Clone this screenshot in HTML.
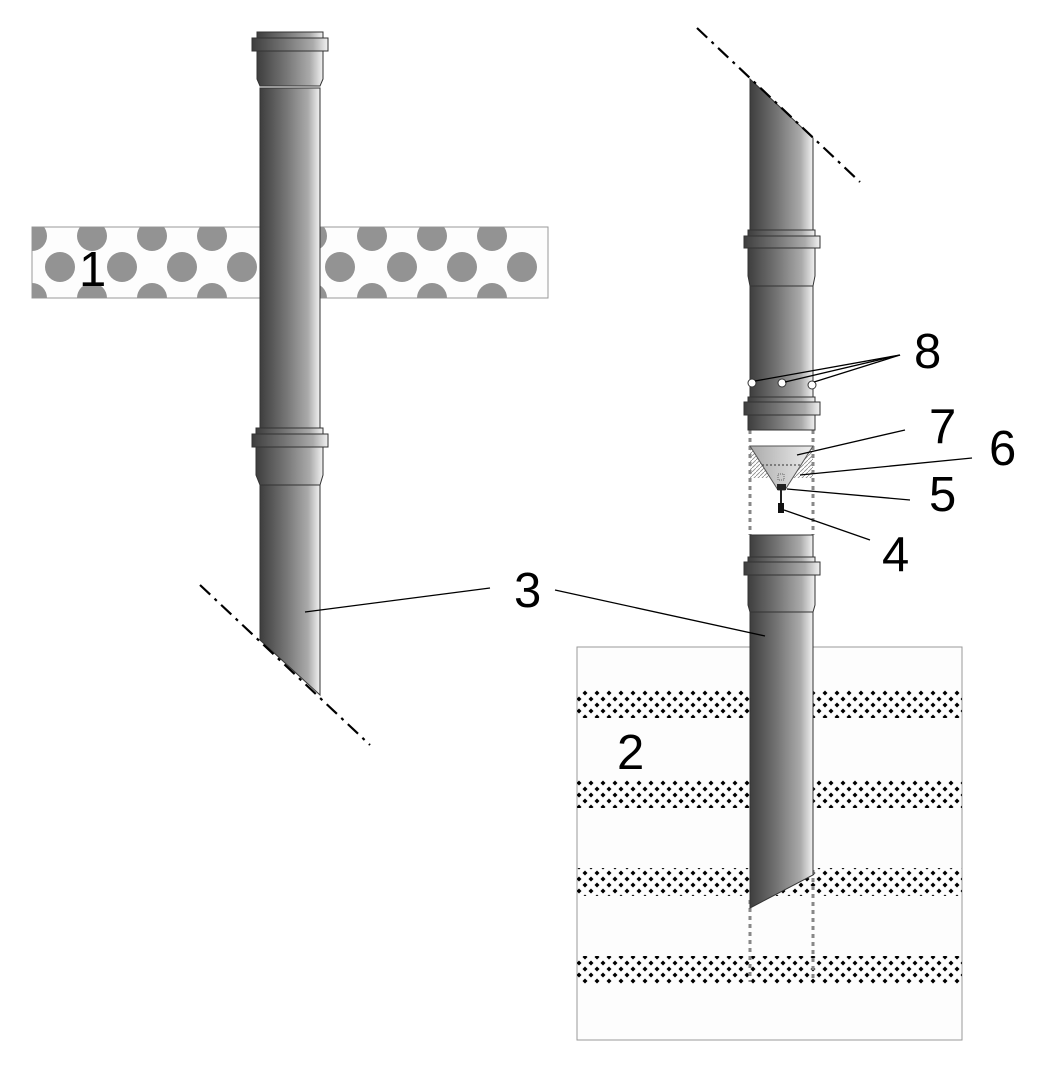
<!DOCTYPE html>
<html><head><meta charset="utf-8"><style>
html,body{margin:0;padding:0;background:#fff;}
svg{display:block;}
text{font-family:"Liberation Sans",sans-serif;font-size:49px;fill:#000;}
</style></head><body>
<svg width="1047" height="1065" viewBox="0 0 1047 1065" xmlns="http://www.w3.org/2000/svg">
<defs>
<linearGradient id="g" x1="0" x2="1" y1="0" y2="0">
<stop offset="0" stop-color="#3e3e3e"/><stop offset="0.45" stop-color="#777"/><stop offset="0.8" stop-color="#aaa"/><stop offset="1" stop-color="#f2f2f2"/>
</linearGradient>
<linearGradient id="gc" x1="0" x2="1"><stop offset="0" stop-color="#aaa"/><stop offset="1" stop-color="#eee"/></linearGradient>
<pattern id="dots" width="12" height="12" patternUnits="userSpaceOnUse">
<path d="M3 0.5 L5.5 3 L3 5.5 L0.5 3Z M9 6.5 L11.5 9 L9 11.5 L6.5 9Z" fill="#000"/>
</pattern>
<pattern id="hatch" width="4" height="4" patternUnits="userSpaceOnUse"><path d="M0 4 L4 0" stroke="#888" stroke-width="0.8"/></pattern>
<clipPath id="band"><rect x="32" y="227" width="516" height="71"/></clipPath>
</defs>

<rect x="32" y="227" width="516" height="71" fill="#fdfdfd" stroke="#999"/>
<g clip-path="url(#band)" fill="#939393">
<circle cx="32" cy="236" r="15"/><circle cx="92" cy="236" r="15"/><circle cx="152" cy="236" r="15"/><circle cx="212" cy="236" r="15"/><circle cx="312" cy="236" r="15"/><circle cx="372" cy="236" r="15"/><circle cx="432" cy="236" r="15"/><circle cx="492" cy="236" r="15"/>
<circle cx="60" cy="267" r="15"/><circle cx="122" cy="267" r="15"/><circle cx="182" cy="267" r="15"/><circle cx="242" cy="267" r="15"/><circle cx="340" cy="267" r="15"/><circle cx="402" cy="267" r="15"/><circle cx="462" cy="267" r="15"/><circle cx="522" cy="267" r="15"/>
<circle cx="32" cy="298" r="15"/><circle cx="92" cy="298" r="15"/><circle cx="152" cy="298" r="15"/><circle cx="212" cy="298" r="15"/><circle cx="312" cy="298" r="15"/><circle cx="372" cy="298" r="15"/><circle cx="432" cy="298" r="15"/><circle cx="492" cy="298" r="15"/>
</g>
<text x="79" y="286">1</text>

<g stroke="#333" stroke-width="1" fill="url(#g)">
<polygon points="260,88 320,88 320,695 260,640"/>
<rect x="257" y="32" width="66" height="6"/>
<rect x="252" y="38" width="76" height="13"/>
<polygon points="257,51 323,51 323,79 320,86 260,86 257,79"/>
<rect x="256" y="428" width="67" height="6"/>
<rect x="252" y="434" width="76" height="13"/>
<polygon points="256,447 323,447 323,475 320,485 260,485 256,475"/>
</g>
<line x1="200" y1="585" x2="370" y2="745" stroke="#000" stroke-width="2.2" stroke-dasharray="14,6,3,6"/>

<rect x="577" y="647" width="385" height="393" fill="#fdfdfd" stroke="#999"/>
<rect x="577" y="690" width="385" height="28" fill="url(#dots)"/>
<rect x="577" y="780" width="385" height="28" fill="url(#dots)"/>
<rect x="577" y="868" width="385" height="28" fill="url(#dots)"/>
<rect x="577" y="956" width="385" height="28" fill="url(#dots)"/>
<text x="617" y="769">2</text>

<g stroke="#888" stroke-width="3" stroke-dasharray="4,4" fill="none">
<line x1="750" y1="430" x2="750" y2="535"/><line x1="813" y1="430" x2="813" y2="535"/>
<line x1="750" y1="900" x2="750" y2="982"/><line x1="813" y1="870" x2="813" y2="982"/>
</g>

<g stroke="#333" stroke-width="1" fill="url(#g)">
<polygon points="750,79 813,138 813,402 750,402"/>
<rect x="748" y="230" width="67" height="6"/>
<rect x="744" y="236" width="76" height="12"/>
<polygon points="748,248 815,248 815,276 813,286 750,286 748,276"/>
<rect x="748" y="397" width="67" height="5"/>
<rect x="744" y="402" width="76" height="13"/>
<polygon points="748,415 815,415 815,430 748,430" />
<polygon points="750,535 813,535 813,875 750,908"/>
<rect x="748" y="557" width="67" height="5"/>
<rect x="744" y="562" width="76" height="13"/>
<polygon points="748,575 815,575 815,605 813,612 750,612 748,605" />
</g>
<rect x="750" y="446" width="63" height="32" fill="url(#hatch)"/>
<polygon points="750,446 813,446 785,490 778,490" fill="url(#gc)" stroke="#555"/>
<line x1="762" y1="465" x2="801" y2="465" stroke="#333" stroke-dasharray="2,2"/>
<rect x="777" y="484" width="9" height="6" fill="#222"/>
<line x1="781" y1="490" x2="781" y2="503" stroke="#222" stroke-width="2"/>
<rect x="778" y="503" width="6" height="10" fill="#111"/>
<rect x="778" y="474" width="6" height="6" fill="none" stroke="#666" stroke-dasharray="1,1"/>
<circle cx="752" cy="383" r="4" fill="#fff" stroke="#333"/>
<circle cx="782" cy="383" r="4" fill="#fff" stroke="#333"/>
<circle cx="812" cy="385" r="4" fill="#fff" stroke="#333"/>

<line x1="697" y1="28" x2="860" y2="182" stroke="#000" stroke-width="2.2" stroke-dasharray="14,6,3,6"/>

<g stroke="#000" stroke-width="1.3">
<line x1="305" y1="612" x2="490" y2="588"/>
<line x1="555" y1="590" x2="765" y2="636"/>
<line x1="900" y1="355" x2="755" y2="381"/>
<line x1="900" y1="355" x2="785" y2="382"/>
<line x1="900" y1="355" x2="814" y2="382"/>
<line x1="905" y1="430" x2="797" y2="455"/>
<line x1="972" y1="458" x2="800" y2="475"/>
<line x1="910" y1="500" x2="787" y2="489"/>
<line x1="870" y1="540" x2="784" y2="510"/>
</g>
<text x="514" y="607">3</text>
<text x="914" y="368">8</text>
<text x="929" y="443">7</text>
<text x="989" y="465">6</text>
<text x="929" y="511">5</text>
<text x="882" y="571">4</text>
</svg>
</body></html>
